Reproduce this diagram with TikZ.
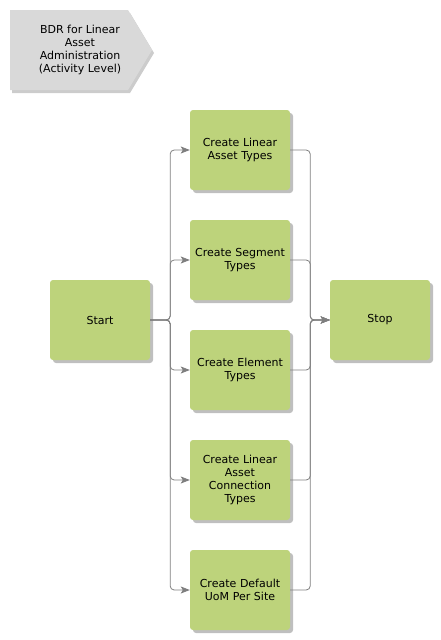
\documentclass[tikz,border=0pt]{standalone}
\usepackage{fontspec}
\setmainfont{DejaVu Sans}
\usetikzlibrary{arrows.meta,shadows,positioning}

\definecolor{actgreen}{HTML}{BDD37B}
\definecolor{bdrgray}{HTML}{D9D9D9}
\definecolor{linkgray}{HTML}{7F7F7F}

\begin{document}
\begin{tikzpicture}[x=1pt,y=-1pt,
  act/.style={draw=none,fill=actgreen,rounded corners=3pt,minimum width=100pt,minimum height=80pt,
    inner xsep=2pt,align=center,text width=96pt,font=\fontsize{11}{13}\selectfont,
    drop shadow={shadow xshift=3pt,shadow yshift=-3pt,fill=black,opacity=.25}},
  link/.style={draw=linkgray,line width=.8pt,rounded corners=4pt,-{Stealth[length=9pt,width=7pt,inset=2pt]}}]
\useasboundingbox (0,0) rectangle (440,640);
% process header
\fill[black,opacity=.2] (12,13) -- (130,13) -- (154,53) -- (130,93) -- (12,93) -- cycle;
\fill[bdrgray] (10,10) -- (128,10) -- (152,50) -- (128,90) -- (10,90) -- cycle;
\node[align=center,font=\fontsize{11}{13}\selectfont] (bdr) at (80,50) {BDR for Linear\\Asset\\Administration\\(Activity Level)};
% activities
\node[act] (start) at (100,320) {Start};
\node[act] (linear) at (240,150) {Create Linear\\Asset Types};
\node[act] (segment) at (240,260) {Create Segment\\Types};
\node[act] (element) at (240,370) {Create Element\\Types};
\node[act] (connect) at (240,480) {Create Linear\\Asset\\Connection\\Types};
\node[act] (uom) at (240,590) {Create Default\\UoM Per Site};
\node[act] (stop) at (380,320) {Stop};
% links
\foreach \t in {linear,segment,element,connect,uom}{
  \draw[link] (start.east) -- ++(20,0) |- (\t.west);
  \draw[link] (\t.east) -- ++(20,0) |- (stop.west);
}
\end{tikzpicture}
\end{document}
